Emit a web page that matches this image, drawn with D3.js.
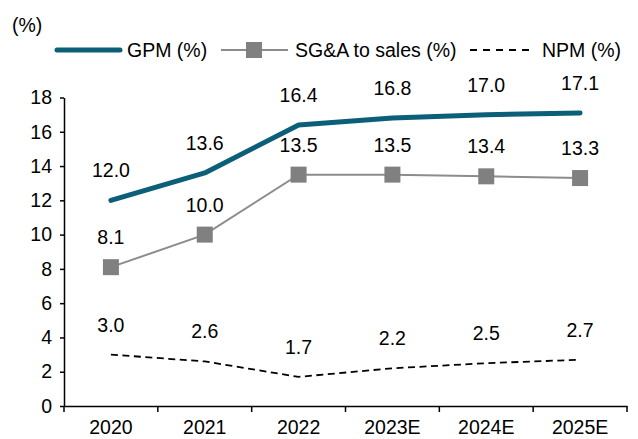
<!DOCTYPE html>
<html>
<head>
<meta charset="utf-8">
<script src="https://cdn.jsdelivr.net/npm/d3@7.9.0/dist/d3.min.js"></script>
<style>
  html, body { margin: 0; padding: 0; background: #fff; }
  svg { display: block; font-family: "Liberation Sans", Arial, sans-serif; }
  .axis text { font-size: 19.5px; fill: #000; }
  .axis path, .axis line { stroke: #000; stroke-width: 1.5; }
</style>
</head>
<body>
<svg width="638" height="439"></svg>
<script>
// === Data ===
const years = ['2020', '2021', '2022', '2023E', '2024E', '2025E'];
const gpm = [12.0, 13.6, 16.4, 16.8, 17.0, 17.1];
const sga = [8.1, 10.0, 13.5, 13.5, 13.4, 13.3];
const npm = [3.0, 2.6, 1.7, 2.2, 2.5, 2.7];
const yTicks = [0, 2, 4, 6, 8, 10, 12, 14, 16, 18];
const seriesNames = ['GPM (%)', 'SG&A to sales (%)', 'NPM (%)'];

const teal = '#0c5f78';
const grey = '#8c8c8c';
const fontSize = 19.5;

const svg = d3.select('svg');

// === Scales ===
const x = d3.scaleBand().domain(years).range([64, 627]);
const y = d3.scaleLinear().domain([0, 18]).range([406, 97.5]);
const cx = d => x(d) + x.bandwidth() / 2;

// === Y axis ===
svg.append('g')
  .attr('class', 'axis')
  .attr('transform', 'translate(64,0)')
  .call(d3.axisLeft(y).tickValues(yTicks).tickSize(4).tickSizeOuter(0).tickPadding(8).tickFormat(d3.format('d')));

// === X axis (ticks on category boundaries) ===
const xAxis = svg.append('g')
  .attr('class', 'axis')
  .attr('transform', 'translate(0,406)')
  .call(d3.axisBottom(x).tickSize(0).tickSizeOuter(0).tickPadding(14));
const bounds = years.map(d => x(d)).concat([x.range()[1]]);
xAxis.selectAll('.bound')
  .data(bounds)
  .join('line')
  .attr('class', 'bound')
  .attr('x1', d => d).attr('x2', d => d)
  .attr('y1', 0).attr('y2', 6);

// === Lines ===
const line = d3.line().x((d, i) => cx(years[i])).y(d => y(d));

svg.append('path')
  .attr('d', line(npm))
  .attr('fill', 'none')
  .attr('stroke', '#000')
  .attr('stroke-width', 1.8)
  .attr('stroke-dasharray', '7,4.5');

svg.append('path')
  .attr('d', line(sga))
  .attr('fill', 'none')
  .attr('stroke', grey)
  .attr('stroke-width', 2);

svg.selectAll('.sq')
  .data(sga)
  .join('rect')
  .attr('class', 'sq')
  .attr('x', (d, i) => cx(years[i]) - 8)
  .attr('y', d => y(d) - 8)
  .attr('width', 16)
  .attr('height', 16)
  .attr('fill', '#808080');

svg.append('path')
  .attr('d', line(gpm))
  .attr('fill', 'none')
  .attr('stroke', teal)
  .attr('stroke-width', 5)
  .attr('stroke-linecap', 'round')
  .attr('stroke-linejoin', 'round');

// === Data labels ===
[gpm, sga, npm].forEach(values => {
  svg.append('g')
    .selectAll('text')
    .data(values)
    .join('text')
    .attr('x', (d, i) => cx(years[i]))
    .attr('y', d => y(d) - 23)
    .attr('text-anchor', 'middle')
    .attr('font-size', fontSize)
    .text(d => d.toFixed(1));
});

// === Unit label ===
svg.append('text')
  .attr('x', 12).attr('y', 32)
  .attr('font-size', fontSize)
  .text('(%)');

// === Legend ===
const legend = svg.append('g').attr('font-size', fontSize);
legend.append('line')
  .attr('x1', 57).attr('x2', 120).attr('y1', 50).attr('y2', 50)
  .attr('stroke', teal).attr('stroke-width', 5).attr('stroke-linecap', 'round');
legend.append('text').attr('x', 127).attr('y', 57).text(seriesNames[0]);

legend.append('line')
  .attr('x1', 221).attr('x2', 288).attr('y1', 50).attr('y2', 50)
  .attr('stroke', grey).attr('stroke-width', 2);
legend.append('rect')
  .attr('x', 246).attr('y', 42).attr('width', 16).attr('height', 16)
  .attr('fill', '#808080');
legend.append('text').attr('x', 295).attr('y', 57).text(seriesNames[1]);

legend.append('line')
  .attr('x1', 470).attr('x2', 529).attr('y1', 50).attr('y2', 50)
  .attr('stroke', '#000').attr('stroke-width', 1.8).attr('stroke-dasharray', '7,6');
legend.append('text').attr('x', 542).attr('y', 57).text(seriesNames[2]);
</script>
</body>
</html>
